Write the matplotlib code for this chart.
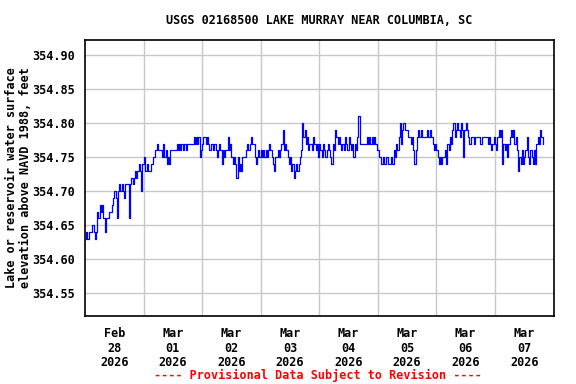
import matplotlib
matplotlib.use("Agg")
import matplotlib.pyplot as plt
import numpy as np

# Gage height (hundredths of a foot above 354.00 ft), 30-minute readings
feb28 = [63, 64, 63, 64, 64, 64, 65, 64, 63, 64, 67, 66, 68, 67, 68, 66, 64, 66, 66, 66, 67, 67, 68, 69,
         70, 69, 66, 70, 71, 70, 71, 70, 69, 71, 71, 71, 66, 71, 72, 71, 72, 73, 72, 73, 74, 73, 70, 74]
mar01 = [75, 73, 73, 74, 73, 73, 74, 74, 75, 76, 76, 77, 76, 76, 76, 75, 77, 75, 76, 74, 75, 74, 76, 76,
         76, 76, 76, 77, 76, 77, 76, 77, 76, 77, 77, 76, 77, 77, 77, 77, 77, 78, 77, 78, 77, 78, 75, 76]
mar02 = [77, 78, 78, 77, 78, 77, 76, 77, 77, 76, 77, 76, 75, 76, 77, 76, 74, 76, 75, 76, 76, 78, 76, 77,
         75, 74, 75, 74, 72, 75, 73, 74, 73, 75, 75, 75, 76, 77, 76, 77, 78, 77, 77, 75, 74, 75, 76, 75]
mar03 = [76, 75, 76, 75, 76, 75, 76, 77, 76, 75, 74, 73, 75, 75, 76, 75, 76, 77, 79, 76, 77, 76, 75, 74,
         75, 73, 74, 72, 73, 74, 73, 74, 75, 76, 80, 78, 79, 77, 78, 76, 77, 77, 76, 78, 77, 76, 77, 75]
mar04 = [77, 76, 75, 77, 76, 75, 76, 77, 76, 75, 74, 77, 76, 79, 78, 77, 78, 77, 76, 77, 76, 78, 77, 76,
         78, 77, 76, 77, 75, 77, 76, 78, 81, 77, 77, 77, 77, 77, 77, 78, 77, 78, 77, 78, 77, 78, 77, 76]
mar05 = [76, 75, 75, 74, 75, 74, 74, 75, 74, 74, 74, 75, 74, 76, 75, 77, 76, 78, 80, 77, 79, 80, 79, 79,
         79, 78, 78, 77, 78, 76, 74, 76, 78, 79, 78, 79, 78, 78, 78, 78, 79, 78, 78, 79, 78, 77, 76, 77]
mar06 = [76, 75, 74, 75, 74, 75, 75, 76, 74, 77, 76, 78, 77, 79, 80, 78, 79, 80, 79, 78, 80, 79, 75, 79,
         80, 79, 78, 77, 78, 78, 78, 77, 78, 78, 78, 78, 77, 78, 78, 78, 78, 78, 77, 78, 77, 76, 77, 78]
mar07 = [77, 76, 78, 79, 78, 79, 74, 77, 76, 77, 75, 77, 78, 79, 78, 79, 77, 78, 76, 73,
         75, 74, 76, 74, 75, 76, 78, 75, 74, 76, 75, 74, 76, 74, 77, 78, 77, 79, 78, 77]

base_ft = 354.00
step_days = 0.5 / 24.0

tick_labels = ["Feb\n28\n2026", "Mar\n01\n2026", "Mar\n02\n2026", "Mar\n03\n2026",
               "Mar\n04\n2026", "Mar\n05\n2026", "Mar\n06\n2026", "Mar\n07\n2026"]
y_ticks = [354.55, 354.60, 354.65, 354.70, 354.75, 354.80, 354.85, 354.90]

title = "USGS 02168500 LAKE MURRAY NEAR COLUMBIA, SC"
ylabel = "Lake or reservoir water surface\nelevation above NAVD 1988, feet"
footer = "---- Provisional Data Subject to Revision ----"

series = feb28 + mar01 + mar02 + mar03 + mar04 + mar05 + mar06 + mar07
values = base_ft + np.array(series) / 100.0
days = np.arange(len(values)) * step_days

font = "DejaVu Sans Mono"
fs = 8.5

fig = plt.figure(figsize=(5.76, 3.84), dpi=100)
ax = fig.add_axes([85 / 576, 1 - 316 / 384, (553.5 - 85) / 576, (316 - 40) / 384])

ax.plot(days, values, color="#0000ff", linewidth=0.9, drawstyle="steps-post", zorder=3)

ax.set_xlim(0, 8)
ax.set_ylim(354.5166, 354.9225)

ax.set_xticks(np.arange(len(tick_labels)) + 0.5)
ax.set_xticklabels(tick_labels, fontfamily=font, fontweight="bold", fontsize=fs, linespacing=1.15)
ax.set_xticks(np.arange(1, 8), minor=True)
ax.set_yticks(y_ticks)
ax.set_yticklabels([f"{v:.2f}" for v in y_ticks], fontfamily=font, fontweight="bold", fontsize=fs)

ax.tick_params(axis="both", which="both", length=0)
ax.tick_params(axis="x", pad=8)
ax.tick_params(axis="y", pad=7)

ax.grid(False)
ax.grid(True, which="minor", axis="x", color="#c8c8c8", linewidth=1.0)
ax.grid(True, which="major", axis="y", color="#c8c8c8", linewidth=1.0)
ax.set_axisbelow(True)

for s in ax.spines.values():
    s.set_color("black")
    s.set_linewidth(1.2)

fig.text(319.5 / 576, 1 - 20 / 384, title, ha="center", va="center",
         fontfamily=font, fontweight="bold", fontsize=fs)
fig.text(18.5 / 576, 1 - 178 / 384, ylabel, ha="center", va="center", rotation=90,
         multialignment="center", fontfamily=font, fontweight="bold", fontsize=fs, linespacing=1.1)
fig.text(318 / 576, 1 - 375 / 384, footer, ha="center", va="center", color="#ff0000",
         fontfamily=font, fontweight="bold", fontsize=fs)

fig.savefig("out.png", dpi=100)
